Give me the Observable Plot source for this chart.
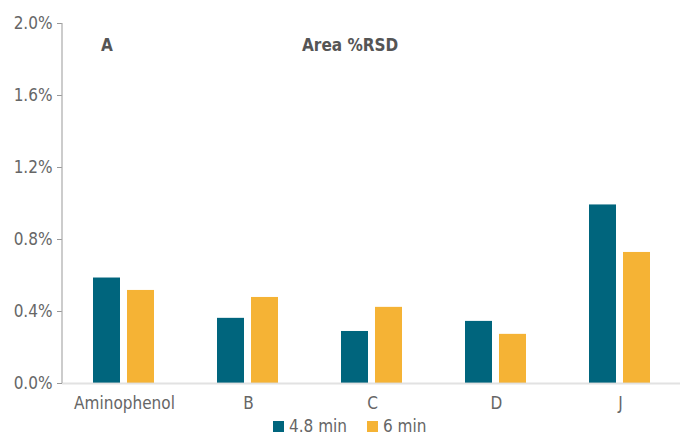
<!DOCTYPE html>
<html><head><meta charset="utf-8">
<script src="https://cdn.jsdelivr.net/npm/d3@7"></script>
<script src="https://cdn.jsdelivr.net/npm/@observablehq/plot@0.6"></script>
<style>
body{margin:0;background:#fff;font-family:"DejaVu Sans Condensed","DejaVu Sans",sans-serif;}
#wrap{position:relative;width:680px;height:436px;overflow:hidden;}
#wrap svg{position:absolute;left:0;top:0;}
.lbl{position:absolute;font-weight:bold;color:#555;font-size:17px;line-height:20px;}
#legend{position:absolute;left:273px;top:416px;display:flex;align-items:center;font-size:17px;color:#666;line-height:20px;}
#legend .sw{width:11px;height:11px;display:inline-block;margin-right:5px;}
#legend .it{display:flex;align-items:center;margin-right:20px;}
</style></head>
<body><div id="wrap"></div>
<script>
const categories = ["Aminophenol", "B", "C", "D", "J"];
const seriesNames = ["4.8 min", "6 min"];
const colors = ["#00657D", "#F5B335"];
const values48 = [0.00586, 0.00362, 0.00289, 0.00345, 0.00992];
const values6 = [0.00517, 0.00478, 0.00423, 0.00273, 0.00728];
const yTicks = [0, 0.004, 0.008, 0.012, 0.016, 0.02];

const data = [];
categories.forEach((c, i) => {
  data.push({cat: c, series: seriesNames[0], value: values48[i]});
  data.push({cat: c, series: seriesNames[1], value: values6[i]});
});

const font = '"DejaVu Sans Condensed","DejaVu Sans",sans-serif';
const chart = Plot.plot({
  width: 680, height: 436,
  marginLeft: 62, marginRight: -2, marginTop: 23, marginBottom: 53,
  style: {fontFamily: font, fontSize: "17px", color: "#666", background: "transparent"},
  fx: {domain: categories, paddingInner: 0, paddingOuter: 0, label: null},
  x: {domain: seriesNames, paddingInner: 0.2, paddingOuter: 0.9, axis: null},
  y: {domain: [0, 0.02], label: null},
  color: {domain: seriesNames, range: colors},
  marks: [
    Plot.axisY({ticks: yTicks, tickFormat: d3.format(".1%"), tickSize: 5, tickPadding: 5, stroke: "#999", fill: "#666", fontSize: 17, label: null}),
    Plot.axisFx({anchor: "bottom", tickSize: 0, tickPadding: 13, fill: "#666", fontSize: 17, label: null}),
    Plot.barY(data, {fx: "cat", x: "series", y: "value", fill: "series"}),
    Plot.ruleY([0], {stroke: "#ddd", strokeWidth: 2, strokeOpacity: 0.85})
  ]
});
const wrap = document.getElementById("wrap");
wrap.appendChild(chart);
const ys = chart.scale("y");
d3.select(chart).append("line")
  .attr("x1", 62).attr("x2", 62)
  .attr("y1", ys.apply(0.02)).attr("y2", ys.apply(0))
  .attr("stroke", "#aaa").attr("stroke-width", 1.2);

const a = document.createElement("div"); a.className = "lbl"; a.textContent = "A";
a.style.left = "101px"; a.style.top = "35px"; wrap.appendChild(a);
const t = document.createElement("div"); t.className = "lbl"; t.textContent = "Area %RSD";
t.style.left = "302px"; t.style.top = "35px"; wrap.appendChild(t);

const lg = document.createElement("div"); lg.id = "legend";
seriesNames.forEach((s, i) => {
  const it = document.createElement("div"); it.className = "it";
  const sw = document.createElement("span"); sw.className = "sw"; sw.style.background = colors[i];
  const tx = document.createElement("span"); tx.textContent = s;
  it.appendChild(sw); it.appendChild(tx); lg.appendChild(it);
});
wrap.appendChild(lg);
</script></body></html>
